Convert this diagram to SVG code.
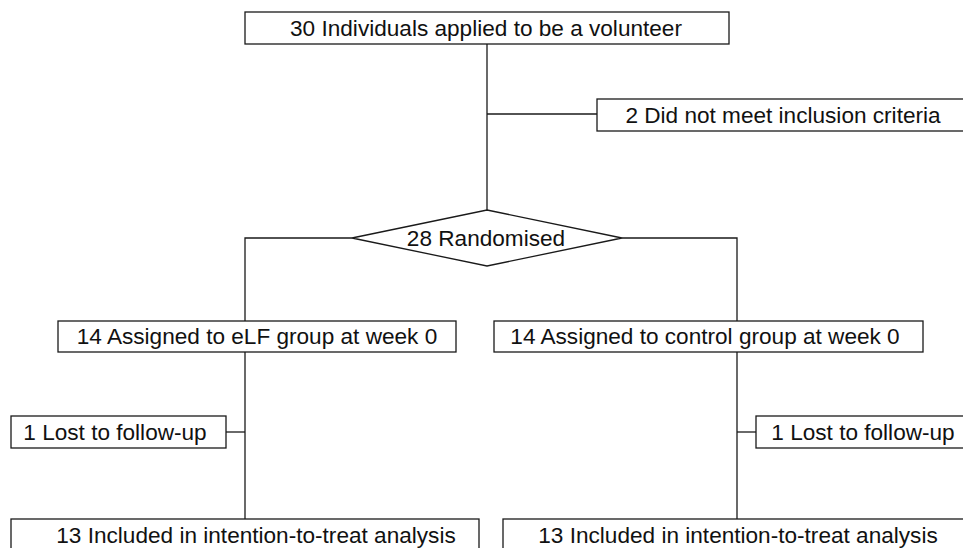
<svg xmlns="http://www.w3.org/2000/svg" width="963" height="548" viewBox="0 0 963 548">
<style>
.box{fill:#fff;stroke:#1a1a1a;stroke-width:1.3}
.t{font-family:"Liberation Sans",Arial,sans-serif;font-size:22.6px;fill:#111;text-anchor:middle}
.c{fill:none;stroke:#1a1a1a;stroke-width:1.3}
</style>
<rect width="963" height="548" fill="#fff"/>
<g id="connectors">
<path class="c" d="M487 44V210"/>
<path class="c" d="M487 114H597"/>
<path class="c" d="M352 238H245V321"/>
<path class="c" d="M622 238H737V321"/>
<path class="c" d="M245 352V519"/>
<path class="c" d="M226 432H245"/>
<path class="c" d="M737 352V519"/>
<path class="c" d="M737 432H756"/>
</g>
<g id="applied"><rect class="box" x="245" y="12" width="484" height="32"/><text class="t" x="486" y="36">30 Individuals applied to be a volunteer</text></g>
<g id="excluded"><rect class="box" x="597" y="99" width="380" height="32"/><text class="t" x="783" y="123">2 Did not meet inclusion criteria</text></g>
<g id="randomised"><polygon class="box" points="487,210 622,238 487,266 352,238"/><text class="t" x="486" y="246">28 Randomised</text></g>
<g id="elf"><rect class="box" x="58" y="321" width="398" height="31"/><text class="t" x="257" y="344">14 Assigned to eLF group at week 0</text></g>
<g id="control"><rect class="box" x="494" y="321" width="429" height="31"/><text class="t" x="705" y="344">14 Assigned to control group at week 0</text></g>
<g id="lost-left"><rect class="box" x="11" y="416" width="215" height="32"/><text class="t" x="115" y="440">1 Lost to follow-up</text></g>
<g id="lost-right"><rect class="box" x="756" y="416" width="220" height="32"/><text class="t" x="863" y="440">1 Lost to follow-up</text></g>
<g id="itt-left"><rect class="box" x="11" y="519" width="468" height="40"/><text class="t" x="256" y="543">13 Included in intention-to-treat analysis</text></g>
<g id="itt-right"><rect class="box" x="503" y="519" width="480" height="40"/><text class="t" x="738" y="543">13 Included in intention-to-treat analysis</text></g>
</svg>
